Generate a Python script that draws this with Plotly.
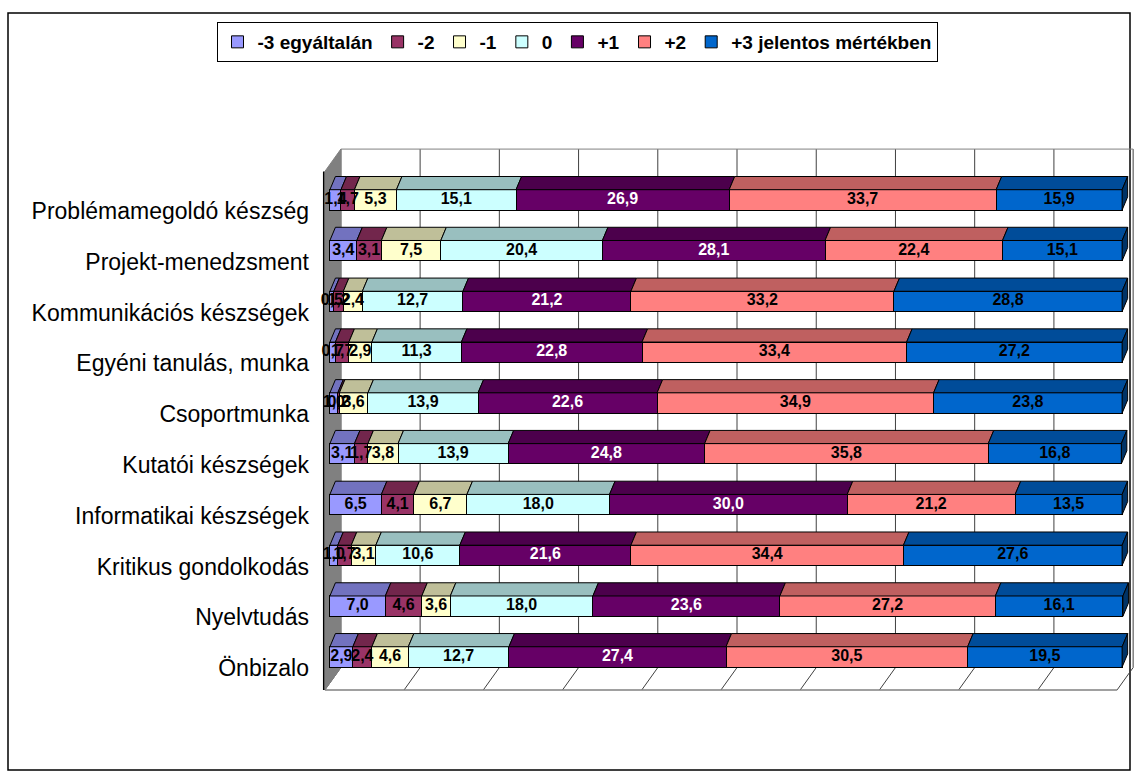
import plotly.graph_objects as go

categories = ["Problémamegoldó készség", "Projekt-menedzsment", "Kommunikációs készségek",
              "Egyéni tanulás, munka", "Csoportmunka", "Kutatói készségek",
              "Informatikai készségek", "Kritikus gondolkodás", "Nyelvtudás", "Önbizalo"]
series_names = ["-3 egyáltalán", "-2", "-1", "0", "+1", "+2", "+3 jelentos mértékben"]
v_m3 = [1.4, 3.4, 0.5, 0.7, 1.0, 3.1, 6.5, 1.0, 7.0, 2.9]
v_m2 = [1.7, 3.1, 1.2, 1.7, 0.2, 1.7, 4.1, 1.7, 4.6, 2.4]
v_m1 = [5.3, 7.5, 2.4, 2.9, 3.6, 3.8, 6.7, 3.1, 3.6, 4.6]
v_0 = [15.1, 20.4, 12.7, 11.3, 13.9, 13.9, 18.0, 10.6, 18.0, 12.7]
v_p1 = [26.9, 28.1, 21.2, 22.8, 22.6, 24.8, 30.0, 21.6, 23.6, 27.4]
v_p2 = [33.7, 22.4, 33.2, 33.4, 34.9, 35.8, 21.2, 34.4, 27.2, 30.5]
v_p3 = [15.9, 15.1, 28.8, 27.2, 23.8, 16.8, 13.5, 27.6, 16.1, 19.5]
x_ticks = [0, 10, 20, 30, 40, 50, 60, 70, 80, 90, 100]

series_values = [v_m3, v_m2, v_m1, v_0, v_p1, v_p2, v_p3]
colors = ["#9999FF", "#993366", "#FFFFCC", "#CCFFFF", "#660066", "#FF8080", "#0066CC"]
text_colors = ["black", "black", "black", "black", "white", "black", "black"]


def shade(hex_color, f):
    h = hex_color.lstrip("#")
    r, g, b = (int(h[i:i + 2], 16) for i in (0, 2, 4))
    return "#%02X%02X%02X" % (int(r * f), int(g * f), int(b * f))


def fmt(v):
    return f"{v:.1f}".replace(".", ",")


ypos = list(range(len(categories)))
BW = 0.40      # bar thickness (category units)
DX = 0.7       # depth offset x (data units)
DY = 0.26      # depth offset y (category units)
WX = 1.39      # back wall offset
FX = -0.63     # floor front offset
WALL_TOP = -1.0
FLOOR_BACK = 9.21
FLOOR_FRONT = 9.65

fig = go.Figure()
for name, vals, col in zip(series_names, series_values, colors):
    fig.add_trace(go.Bar(
        y=ypos, x=vals, orientation="h", name=name, width=BW,
        marker=dict(color=col, line=dict(color="black", width=1)),
        hovertemplate=name + ": %{x}<extra></extra>",
    ))

# data labels drawn above all bars (they overlap on thin segments, as in the original)
starts = [0.0] * len(categories)
for name, vals, tc in zip(series_names, series_values, text_colors):
    mids = [s + v / 2 for s, v in zip(starts, vals)]
    fig.add_trace(go.Scatter(
        x=mids, y=ypos, mode="text", text=[fmt(v) for v in vals],
        textposition="middle center", showlegend=False, hoverinfo="skip",
        textfont=dict(color=tc, size=16, family="Arial", weight="bold"),
        cliponaxis=False,
    ))
    starts = [s + v for s, v in zip(starts, vals)]

shapes = []
# back wall grid lines and floor lines
for t in x_ticks:
    shapes.append(dict(type="line", xref="x", yref="y", layer="below",
                       x0=t + WX, x1=t + WX, y0=WALL_TOP, y1=FLOOR_BACK,
                       line=dict(color="#404040", width=1)))
    shapes.append(dict(type="line", xref="x", yref="y", layer="below",
                       x0=t + WX, x1=t + FX, y0=FLOOR_BACK, y1=FLOOR_FRONT,
                       line=dict(color="#404040", width=1)))
shapes.append(dict(type="line", xref="x", yref="y", layer="below",
                   x0=x_ticks[0] + WX, x1=x_ticks[-1] + WX, y0=WALL_TOP, y1=WALL_TOP,
                   line=dict(color="#808080", width=1)))
shapes.append(dict(type="line", xref="x", yref="y", layer="below",
                   x0=x_ticks[0] + FX, x1=x_ticks[-1] + FX, y0=FLOOR_FRONT, y1=FLOOR_FRONT,
                   line=dict(color="#808080", width=1.5)))
# left side wall
shapes.append(dict(type="path", xref="x", yref="y", layer="below",
                   path=f"M {WX},{WALL_TOP} L {WX},{FLOOR_BACK} L {FX},{FLOOR_FRONT} "
                        f"L {FX},{WALL_TOP + (FLOOR_FRONT - FLOOR_BACK)} Z",
                   fillcolor="#808080", line=dict(color="#808080", width=1)))
shapes.append(dict(type="line", xref="x", yref="y", layer="below",
                   x0=FX - 0.15, x1=FX - 0.15, y0=WALL_TOP + (FLOOR_FRONT - FLOOR_BACK),
                   y1=FLOOR_FRONT, line=dict(color="black", width=1.5)))

# 3D top faces and right end faces of the bars
for i in ypos:
    cum = 0.0
    top = i - BW / 2
    bot = i + BW / 2
    for vals, col in zip(series_values, colors):
        x0, x1 = cum, cum + vals[i]
        shapes.append(dict(type="path", xref="x", yref="y", layer="above",
                           path=f"M {x0},{top} L {x1},{top} L {x1 + DX},{top - DY} L {x0 + DX},{top - DY} Z",
                           fillcolor=shade(col, 0.75), line=dict(color="black", width=1)))
        cum = x1
    shapes.append(dict(type="path", xref="x", yref="y", layer="above",
                       path=f"M {cum},{top} L {cum + DX},{top - DY} L {cum + DX},{bot - DY} L {cum},{bot} Z",
                       fillcolor=shade(colors[-1], 0.5), line=dict(color="black", width=1)))

# outer chart border (paper coords)
L, R, T, B = 318, 3, 144, 85
PW, PH = 1137 - L - R, 780 - T - B
shapes.append(dict(type="rect", xref="paper", yref="paper",
                   x0=(8 - L) / PW, x1=(1130 - L) / PW,
                   y0=(780 - B - 770) / PH, y1=(780 - B - 13) / PH,
                   line=dict(color="black", width=1.5), fillcolor="rgba(0,0,0,0)", layer="below"))

fig.update_layout(
    width=1137, height=780,
    margin=dict(l=L, r=R, t=T, b=B),
    barmode="stack",
    paper_bgcolor="white", plot_bgcolor="white",
    shapes=shapes,
    font=dict(family="Arial", color="black"),
    showlegend=True,
    legend=dict(orientation="h", x=(577 - L) / PW, xanchor="center",
                y=1 + (T - 22) / PH, yanchor="top",
                bordercolor="black", borderwidth=1, bgcolor="white",
                font=dict(size=19, family="Arial", weight="bold"),
                itemwidth=30, traceorder="normal"),
    xaxis=dict(range=[-1.5, 101.5], visible=False, fixedrange=True),
    yaxis=dict(range=[9.75, -1.1], tickvals=[i + 0.22 for i in ypos], ticktext=categories,
               showgrid=False, zeroline=False, showline=False, ticks="",
               ticklabelstandoff=8, tickfont=dict(size=23, family="Arial")),
)

fig.write_html("out.html", config={"displayModeBar": False},
               post_script="document.body.style.margin='0px';")
